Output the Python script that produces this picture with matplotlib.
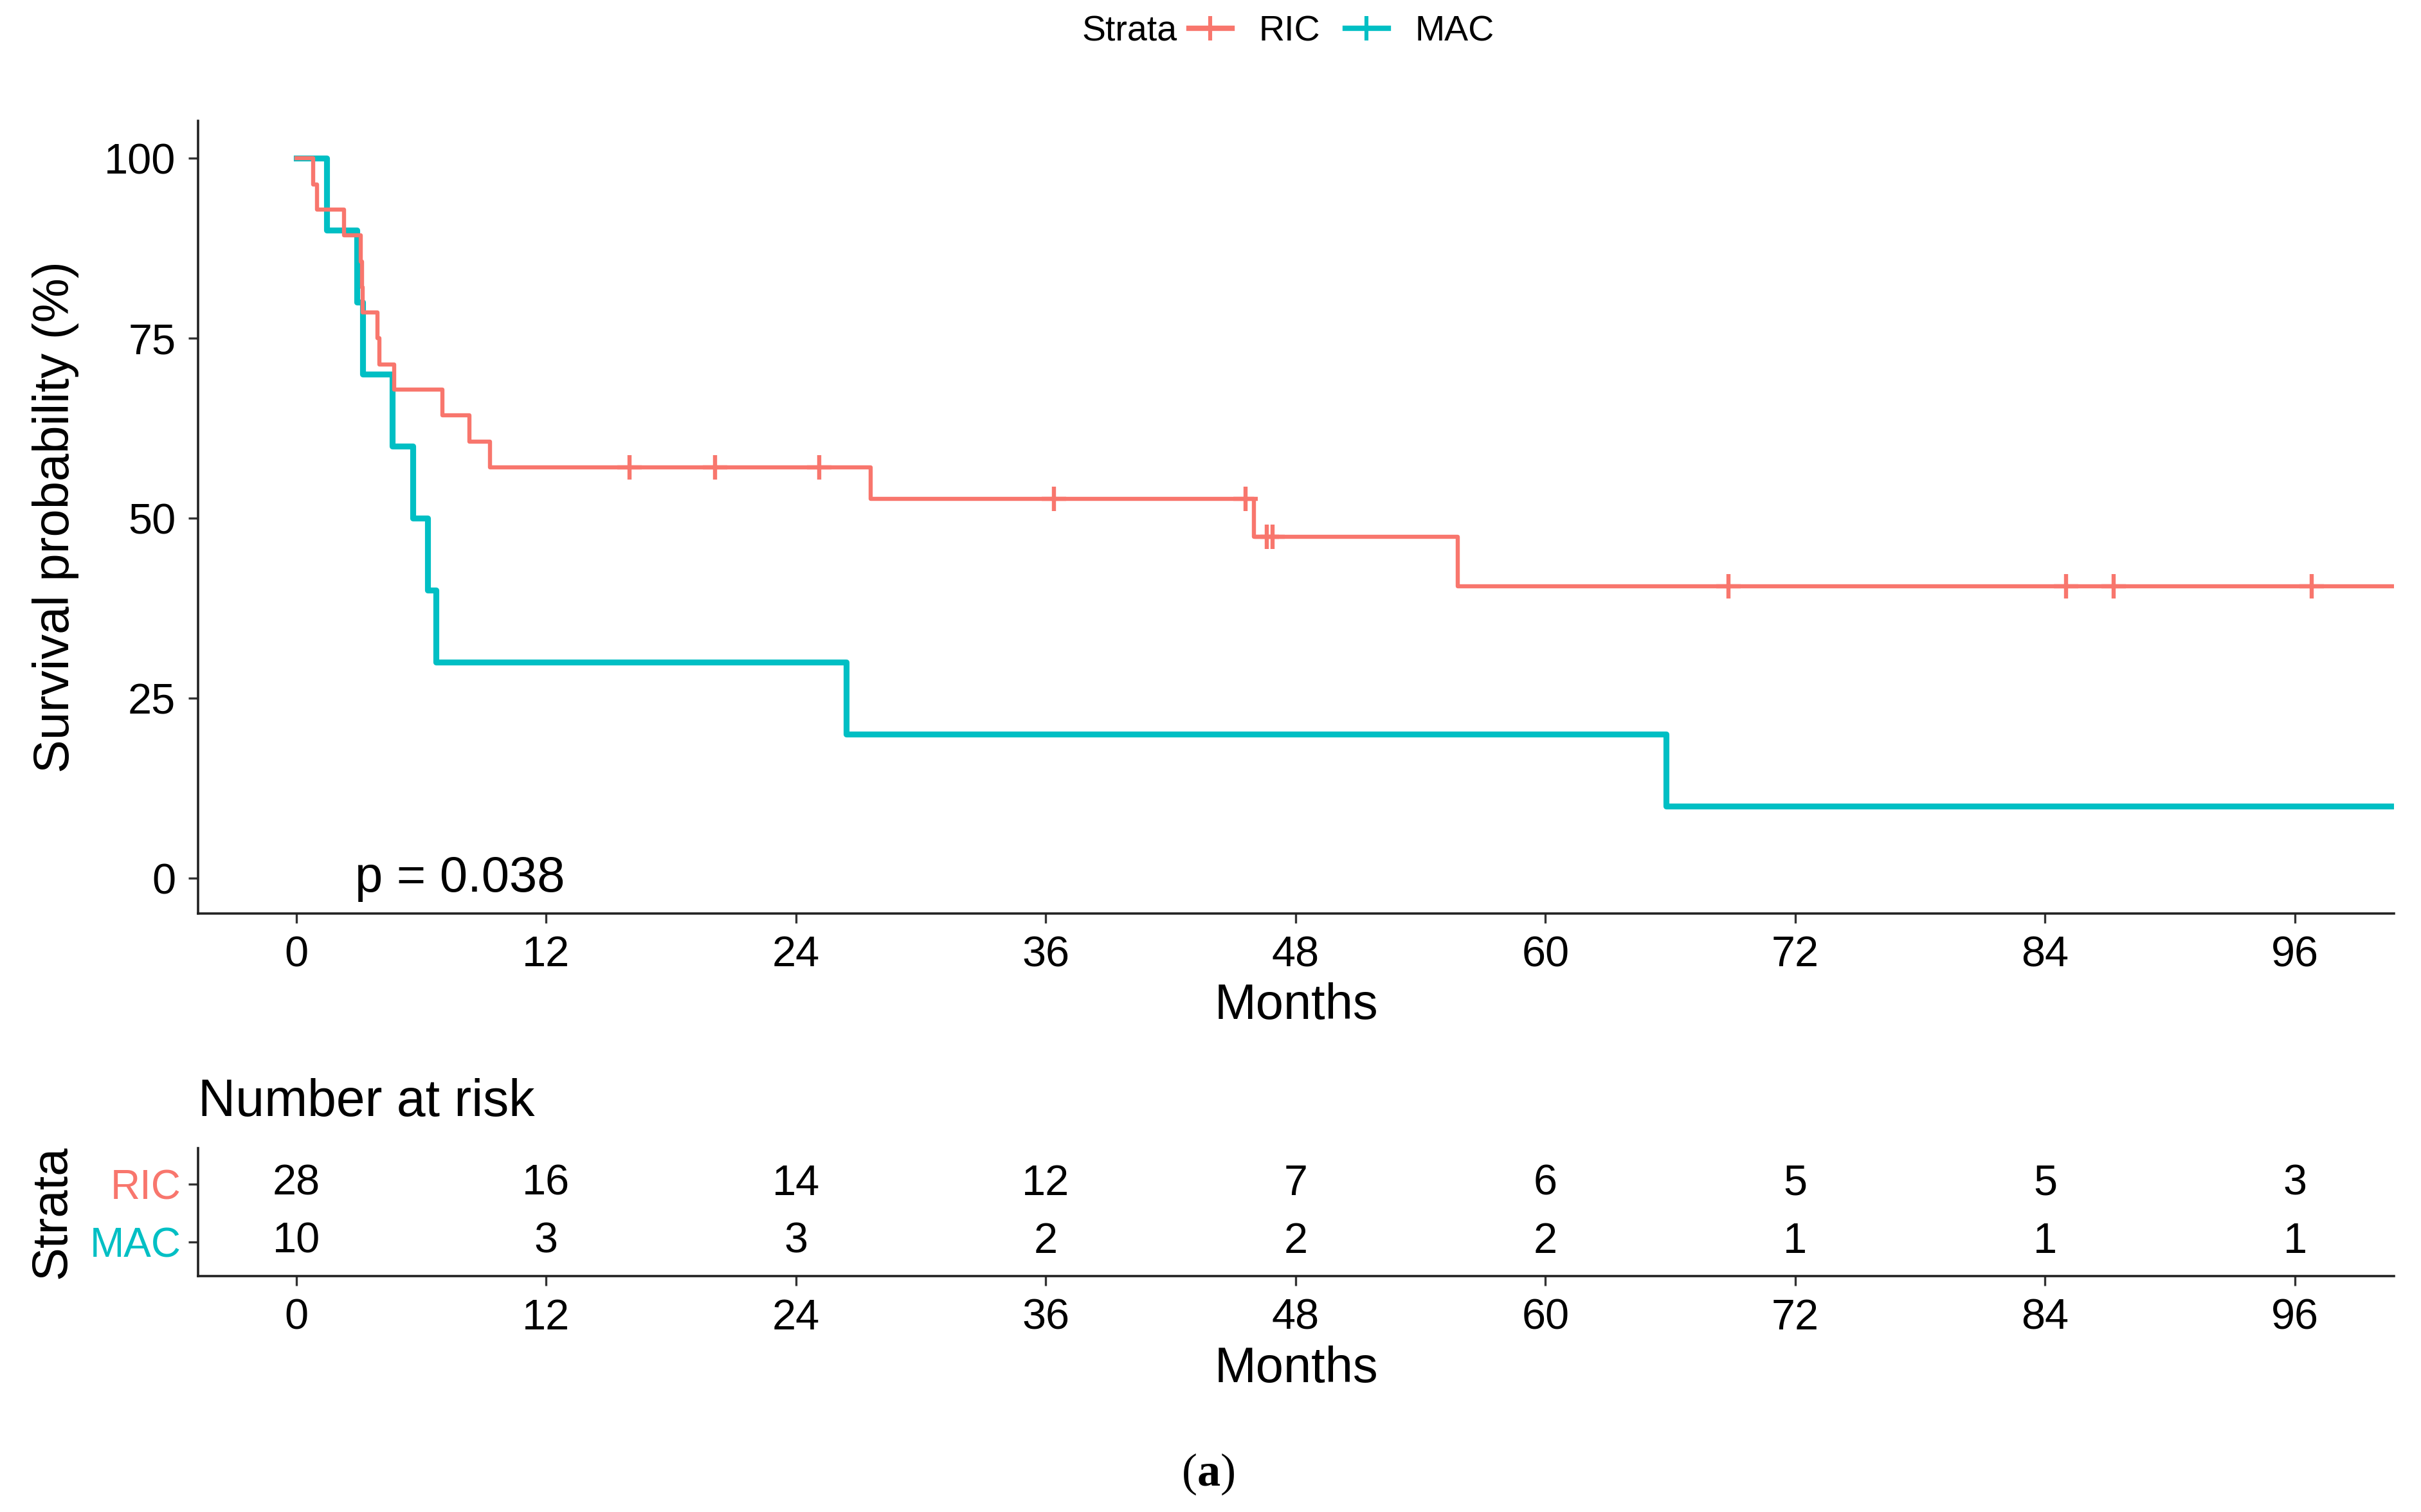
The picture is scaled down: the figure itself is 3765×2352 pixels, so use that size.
#!/usr/bin/env python3
"""
Kaplan-Meier curves RIC vs MAC with number-at-risk table
"""

import numpy as np
import matplotlib
matplotlib.use('Agg')
import matplotlib.pyplot as plt
from matplotlib.lines import Line2D

plt.rcParams['font.family'] = ['Liberation Sans', 'DejaVu Sans']
plt.rcParams['mathtext.fontset'] = 'custom'
plt.rcParams['mathtext.rm'] = 'Liberation Serif'
plt.rcParams['mathtext.bf'] = 'Liberation Serif:bold'

# --- data ---
ric_times = [0, 0.8, 1.0, 2.3, 3.1, 3.15, 3.2, 3.9, 4.0, 4.7, 7.0, 8.3, 9.3, 27.6, 46.0, 55.8]
ric_surv = [100, 96.4, 92.9, 89.3, 85.7, 82.1, 78.6, 75.0, 71.4, 67.9, 64.3, 60.7, 57.1, 52.7, 47.4, 40.6]
ric_censor = [16.0, 20.1, 25.1, 36.4, 45.6, 46.6, 46.9, 68.8, 85.0, 87.3, 96.8]

mac_times = [0, 1.45, 2.9, 3.2, 4.6, 5.6, 6.3, 6.7, 26.4, 65.8]
mac_surv = [100, 90, 80, 70, 60, 50, 40, 30, 20, 10]

follow_end = 100.7

risk_times = [0, 12, 24, 36, 48, 60, 72, 84, 96]
ric_at_risk = [28, 16, 14, 12, 7, 6, 5, 5, 3]
mac_at_risk = [10, 3, 3, 2, 2, 2, 1, 1, 1]

RIC_COL = '#F8766D'
MAC_COL = '#00BFC4'
XLIM = (-4.72, 100.76)


def km_value(times, surv, t):
    idx = np.searchsorted(times, t, side='right') - 1
    return np.asarray(surv)[idx]


def style_axis(ax):
    for side in ['top', 'right']:
        ax.spines[side].set_visible(False)
    for side in ['left', 'bottom']:
        ax.spines[side].set_linewidth(1.3)
        ax.spines[side].set_color('#222222')
    ax.tick_params(direction='out', length=5.5, width=1.2, color='#333333',
                   labelsize=24, pad=7)


fig = plt.figure(figsize=(3766 / 200, 2352 / 200), dpi=200)

# main survival plot
ax = fig.add_axes([0.0818, 0.396, 0.9068, 0.524])
ax.step(list(mac_times) + [follow_end], list(mac_surv) + [mac_surv[-1]],
        where='post', color=MAC_COL, lw=3.3, solid_joinstyle='round')
ax.step(list(ric_times) + [follow_end], list(ric_surv) + [ric_surv[-1]],
        where='post', color=RIC_COL, lw=2.3, solid_joinstyle='round')
ric_c_y = [km_value(ric_times, ric_surv, t) for t in ric_censor]
ax.plot(ric_censor, ric_c_y, ls='none', marker='+', ms=14, mew=2.3, color=RIC_COL)

ax.set_xlim(*XLIM)
ax.set_ylim(-4.85, 105.2)
ax.set_xticks(risk_times)
ax.set_yticks([0, 25, 50, 75, 100])
style_axis(ax)
ax.set_xlabel('Months', fontsize=28, labelpad=4)
ax.set_ylabel('Survival probability (%)', fontsize=28, labelpad=14)
ax.text(2.8, 0, 'p = 0.038', fontsize=28, ha='left', va='center')

# legend on top
fig.text(0.486, 0.979, 'Strata', fontsize=20, ha='right', va='center')
handles = [Line2D([], [], color=RIC_COL, lw=3, marker='+', ms=14, mew=2.2),
           Line2D([], [], color=MAC_COL, lw=3, marker='+', ms=14, mew=2.2)]
fig.legend(handles, ['RIC', 'MAC'], loc='center left', bbox_to_anchor=(0.491, 0.979),
           ncol=2, frameon=False, fontsize=20, handlelength=1.2,
           handletextpad=0.75, columnspacing=0.7, borderpad=0, borderaxespad=0)

# number at risk table
axr = fig.add_axes([0.0818, 0.156, 0.9068, 0.0846])
for t, n in zip(risk_times, ric_at_risk):
    axr.text(t, 2, str(n), fontsize=24, ha='center', va='center')
for t, n in zip(risk_times, mac_at_risk):
    axr.text(t, 1, str(n), fontsize=24, ha='center', va='center')
axr.set_xlim(*XLIM)
axr.set_ylim(0.41, 2.62)
axr.set_xticks(risk_times)
axr.set_yticks([2, 1])
axr.set_yticklabels(['RIC', 'MAC'])
style_axis(axr)
axr.tick_params(axis='y', labelsize=23, pad=4)
for lab, col in zip(axr.get_yticklabels(), [RIC_COL, MAC_COL]):
    lab.set_color(col)
axr.set_xlabel('Months', fontsize=28, labelpad=4)
axr.set_ylabel('Strata', fontsize=28, labelpad=8)
axr.set_title('Number at risk', fontsize=29, loc='left', pad=18)

fig.text(0.4987, 0.025, r'($\mathbf{a}$)', fontsize=26, ha='center', va='center',
         family=['Liberation Serif', 'DejaVu Serif'])

fig.savefig('out.png', dpi=200, facecolor='white')
